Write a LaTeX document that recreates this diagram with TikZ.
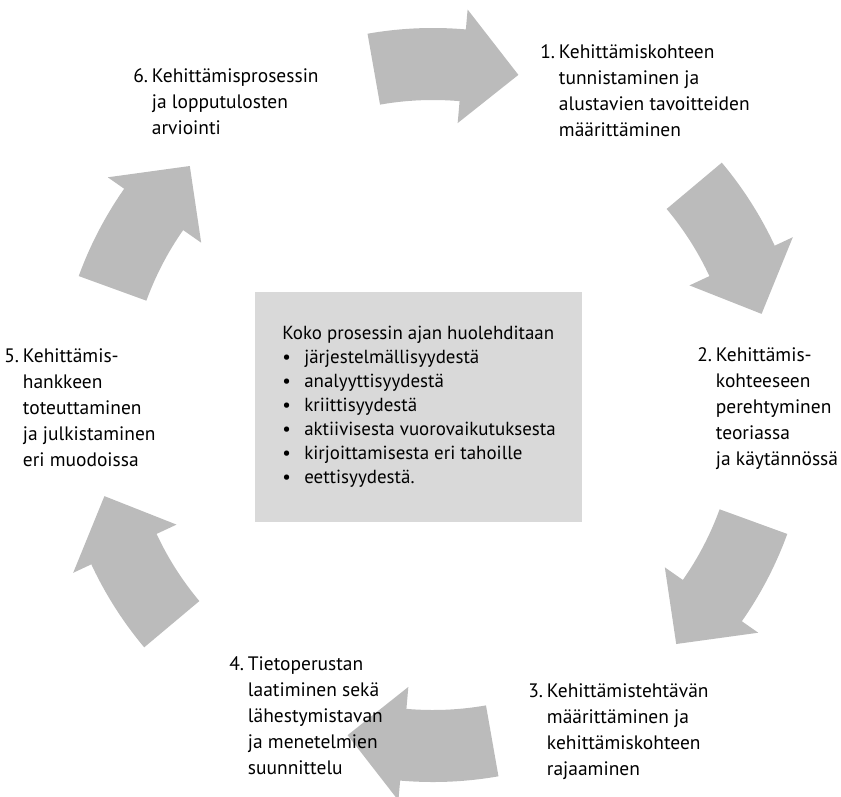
\documentclass[tikz,border=0pt]{standalone}
\usepackage{fontspec}
\setmainfont{PT Sans}
\usetikzlibrary{calc}
\definecolor{arrowgray}{RGB}{187,187,187}
\definecolor{boxgray}{RGB}{217,217,217}
\newcommand\bitem{\makebox[16.5pt][l]{\textbullet}}
\newcommand\numbox[1]{\makebox[14pt][l]{#1}}
\newcommand\indentbox{\hspace*{14pt}}
\tikzset{
  cyclearrow/.style={fill=arrowgray, draw=none},
  lbl/.style={anchor=north west, inner sep=0pt, align=left, font=\fontsize{14.6}{19.5}\selectfont},
  boxst/.style={fill=boxgray, draw=none, minimum width=245.25pt, minimum height=172.5pt, inner sep=0pt},
  boxtext/.style={anchor=north west, inner sep=0pt, align=left, font=\fontsize{14.2}{18}\selectfont}
}
\newcommand\cyclearrow[1]{%
  \pgfmathsetmacro\angA{#1}%
  \pgfmathsetmacro\angB{#1-15}%
  \pgfmathsetmacro\angC{#1-24.5}%
  \fill[cyclearrow] ($(c)+(\angA:282.75pt)$) arc[start angle=\angA, end angle=\angB, radius=282.75pt]
    -- ($(c)+(\angB:297.75pt)$) -- ($(c)+(\angC:255.75pt)$) -- ($(c)+(\angB:212.25pt)$)
    -- ($(c)+(\angB:228.75pt)$) arc[start angle=\angB, end angle=\angA, radius=228.75pt] -- cycle;
}
\begin{document}
\begin{tikzpicture}[x=0.75pt, y=0.75pt]
\useasboundingbox (0,0) rectangle (841,-796);
\coordinate (c) at (433,-405);
\cyclearrow{100}
\cyclearrow{40}
\cyclearrow{-20}
\cyclearrow{-80}
\cyclearrow{-140}
\cyclearrow{160}

\node[boxst] (box) at (418.5,-407) {};
\node[boxtext] (boxtxt) at (282,-322) {\strut Koko prosessin ajan huolehditaan\\
\bitem järjestelmällisyydestä\\
\bitem analyyttisyydestä\\
\bitem kriittisyydestä\\
\bitem aktiivisesta vuorovaikutuksesta\\
\bitem kirjoittamisesta eri tahoille\\
\bitem eettisyydestä.};

\node[lbl] (s1) at (540,-40) {\strut\numbox{1.}Kehittämiskohteen\\
\indentbox tunnistaminen ja\\
\indentbox alustavien tavoitteiden\\
\indentbox määrittäminen};
\node[lbl] (s2) at (697,-343) {\strut\numbox{2.}Kehittämis-\\
\indentbox kohteeseen\\
\indentbox perehtyminen\\
\indentbox teoriassa\\
\indentbox ja käytännössä};
\node[lbl] (s3) at (528,-679) {\strut\numbox{3.}Kehittämistehtävän\\
\indentbox määrittäminen ja\\
\indentbox kehittämiskohteen\\
\indentbox rajaaminen};
\node[lbl] (s4) at (229,-652) {\strut\numbox{4.}Tietoperustan\\
\indentbox laatiminen sekä\\
\indentbox lähestymistavan\\
\indentbox ja menetelmien\\
\indentbox suunnittelu};
\node[lbl] (s5) at (4,-344) {\strut\numbox{5.}Kehittämis-\\
\indentbox hankkeen\\
\indentbox toteuttaminen\\
\indentbox ja julkistaminen\\
\indentbox eri muodoissa};
\node[lbl] (s6) at (133,-64) {\strut\numbox{6.}Kehittämisprosessin\\
\indentbox ja lopputulosten\\
\indentbox arviointi};
\end{tikzpicture}
\end{document}
